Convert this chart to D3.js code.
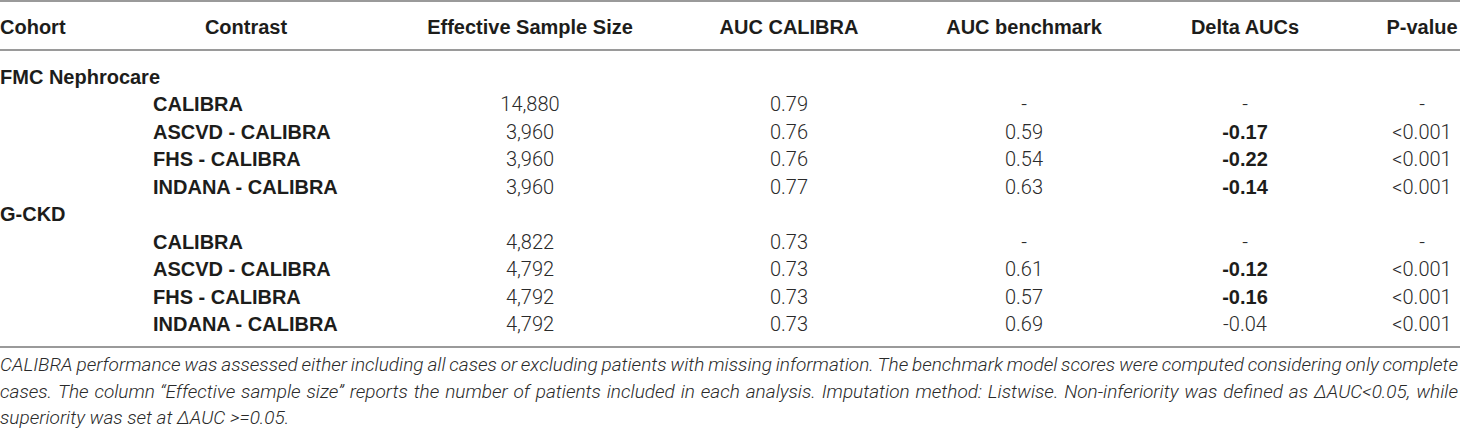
<!DOCTYPE html>
<html>
<head>
<meta charset="utf-8">
<script src="https://cdn.jsdelivr.net/npm/d3@7"></script>
<style>
  body { margin: 0; background: #fff; }
  svg { display: block; }
</style>
</head>
<body>
<svg id="chart" width="1460" height="430"></svg>
<script>
// table content
var headers = ['Cohort', 'Contrast', 'Effective Sample Size', 'AUC CALIBRA', 'AUC benchmark', 'Delta AUCs', 'P-value'];
var cohorts = ['FMC Nephrocare', 'G-CKD'];
var contrasts = ['CALIBRA', 'ASCVD - CALIBRA', 'FHS - CALIBRA', 'INDANA - CALIBRA'];
var sampleSize = [['14,880', '3,960', '3,960', '3,960'], ['4,822', '4,792', '4,792', '4,792']];
var aucCalibra = [['0.79', '0.76', '0.76', '0.77'], ['0.73', '0.73', '0.73', '0.73']];
var aucBenchmark = [['-', '0.59', '0.54', '0.63'], ['-', '0.61', '0.57', '0.69']];
var deltaAucs = [['-', '-0.17', '-0.22', '-0.14'], ['-', '-0.12', '-0.16', '-0.04']];
var deltaBold = [[false, true, true, true], [false, true, true, false]];
var pValues = [['-', '<0.001', '<0.001', '<0.001'], ['-', '<0.001', '<0.001', '<0.001']];
var footLines = [
  'CALIBRA performance was assessed either including all cases or excluding patients with missing information. The benchmark model scores were computed considering only complete',
  'cases. The column \u201cEffective sample size\u201d reports the number of patients included in each analysis. Imputation method: Listwise. Non-inferiority was defined as \u2206AUC<0.05, while',
  'superiority was set at \u2206AUC >=0.05.'
];

var svg = d3.select('#chart');
var W = 1460;
var boldFont = '"Liberation Sans", Arial, Helvetica, sans-serif';
var lightFont = 'Roboto, "Liberation Sans", Arial, sans-serif';

// build rows: cohort header then contrasts
var rows = [];
cohorts.forEach(function(c, gi) {
  rows.push({type: 'cohort', label: c});
  contrasts.forEach(function(k, ri) {
    rows.push({type: 'row', label: k, cells: [sampleSize[gi][ri], aucCalibra[gi][ri], aucBenchmark[gi][ri], deltaAucs[gi][ri], pValues[gi][ri]], boldDelta: deltaBold[gi][ri]});
  });
});

var yRow = d3.scaleLinear().domain([0, rows.length - 1]).range([76.5, 324]);
// column centers
var colX = d3.scaleOrdinal().domain(headers).range([0, 246, 530, 789, 1024, 1245, 1422]);

// rules
var rules = [1, 50, 347];
svg.selectAll('line.rule').data(rules).enter().append('line')
  .attr('class', 'rule')
  .attr('x1', 0).attr('x2', W)
  .attr('y1', d => d).attr('y2', d => d)
  .attr('stroke', '#9a9a9a').attr('stroke-width', 2);

// header
svg.selectAll('text.head').data(headers).enter().append('text')
  .attr('class', 'head')
  .attr('x', d => colX(d))
  .attr('y', 27)
  .attr('dy', '0.35em')
  .attr('text-anchor', (d, i) => i === 0 ? 'start' : 'middle')
  .style('font-family', boldFont).style('font-weight', 'bold').style('font-size', '20px')
  .attr('fill', '#1d1d1b')
  .text(d => d);

// body
var g = svg.append('g');
rows.forEach(function(r, i) {
  var y = yRow(i);
  if (r.type === 'cohort') {
    g.append('text').attr('x', 0).attr('y', y).attr('dy', '0.35em')
      .style('font-family', boldFont).style('font-weight', 'bold').style('font-size', '20px')
      .attr('fill', '#1d1d1b').text(r.label);
    return;
  }
  g.append('text').attr('x', 153).attr('y', y).attr('dy', '0.35em')
    .style('font-family', boldFont).style('font-weight', 'bold').style('font-size', '20px')
    .attr('fill', '#1d1d1b').text(r.label);
  r.cells.forEach(function(v, ci) {
    var bold = ci === 3 && r.boldDelta;
    g.append('text').attr('x', colX(headers[ci + 2])).attr('y', y).attr('dy', '0.35em')
      .attr('text-anchor', 'middle')
      .style('font-family', bold ? boldFont : lightFont)
      .style('font-weight', bold ? 'bold' : 300)
      .style('font-size', '20px')
      .attr('fill', bold ? '#1d1d1b' : '#2a2a2a')
      .text(v);
  });
});

// footnote, justified except last line
var footY = [364, 391, 417.5];
var foot = svg.append('g');
footLines.forEach(function(line, li) {
  var t = foot.append('text').attr('y', footY[li]).attr('dy', '0.35em')
    .style('font-family', lightFont).style('font-style', 'italic').style('font-weight', 300)
    .style('font-size', '19px').attr('fill', '#2a2a2a');
  var words = line.split(' ');
  if (li === footLines.length - 1) {
    t.attr('x', 0).text(line);
    return;
  }
  var spans = words.map(w => t.append('tspan').text(w));
  var widths = spans.map(s => s.node().getComputedTextLength());
  var total = d3.sum(widths);
  var gap = (W - 2 - total) / (words.length - 1);
  var x = 0;
  spans.forEach(function(s, k) {
    s.attr('x', x);
    x += widths[k] + gap;
  });
});
</script>
</body>
</html>
